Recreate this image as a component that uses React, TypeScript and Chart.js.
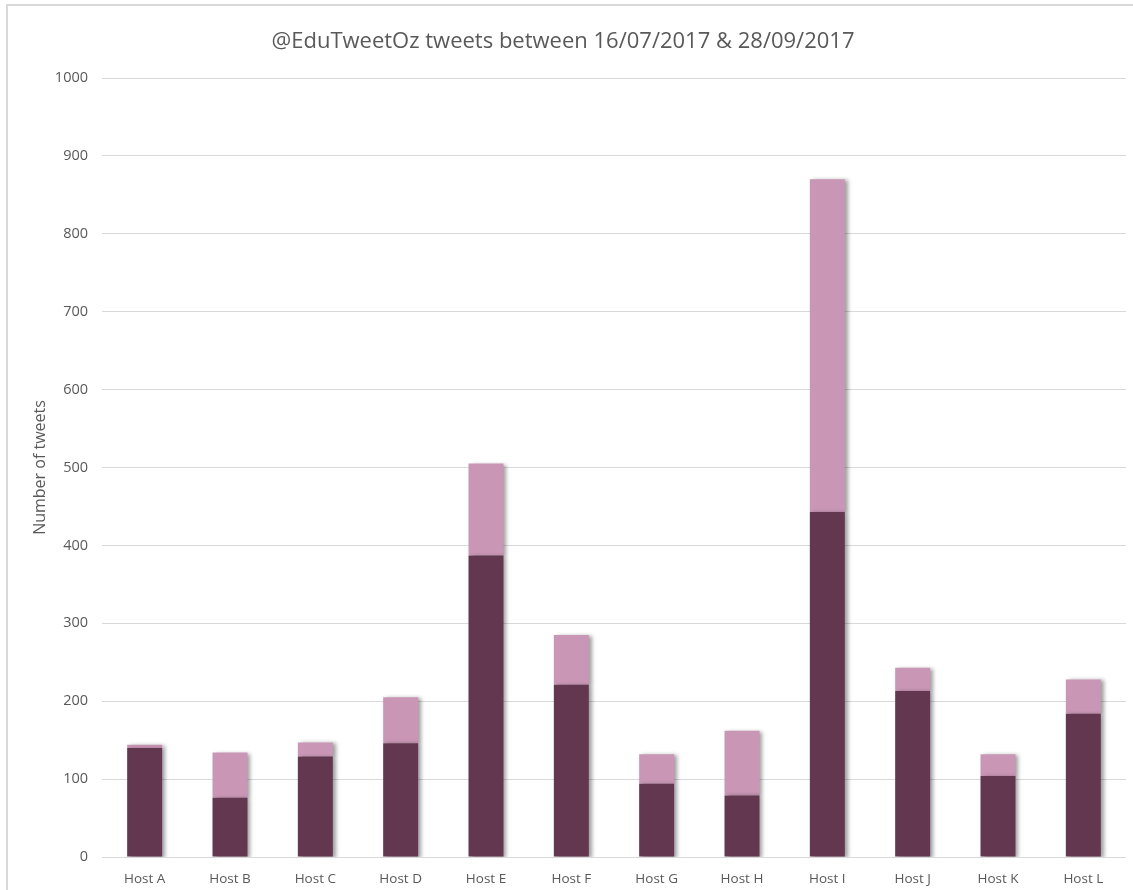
import React, { useEffect, useRef } from "react";
import { Chart, registerables } from "chart.js";

Chart.register(...registerables);

const TITLE = "@EduTweetOz tweets between 16/07/2017 & 28/09/2017";
const Y_TITLE = "Number of tweets";
const categories = ["Host A", "Host B", "Host C", "Host D", "Host E", "Host F", "Host G", "Host H", "Host I", "Host J", "Host K", "Host L"];
const lowerSeries = [140, 76, 129, 146, 387, 221, 94, 79, 443, 213, 104, 184];
const upperSeries = [4, 58, 18, 59, 118, 64, 38, 83, 427, 30, 28, 44];
const yMin = 0;
const yMax = 1000;
const yStep = 100;

const FONT = "'Open Sans', sans-serif";
const TEXT = "#595959";

const shadowPlugin = {
  id: "barShadow",
  beforeDatasetDraw(chart: any) {
    const ctx = chart.ctx;
    ctx.save();
    ctx.shadowColor = "rgba(0,0,0,0.38)";
    ctx.shadowBlur = 4;
    ctx.shadowOffsetX = 3;
    ctx.shadowOffsetY = 1;
  },
  afterDatasetDraw(chart: any) {
    chart.ctx.restore();
  },
};

export default function App() {
  const ref = useRef<HTMLCanvasElement | null>(null);

  useEffect(() => {
    document.body.style.margin = "0";
    if (!ref.current) return;
    const chart = new Chart(ref.current, {
      type: "bar",
      data: {
        labels: categories,
        datasets: [
          {
            label: "Lower",
            data: lowerSeries,
            backgroundColor: "#643750",
            categoryPercentage: 1,
            barPercentage: 0.41,
          },
          {
            label: "Upper",
            data: upperSeries,
            backgroundColor: "#C996B5",
            categoryPercentage: 1,
            barPercentage: 0.41,
          },
        ],
      },
      plugins: [shadowPlugin],
      options: {
        animation: false,
        responsive: false,
        maintainAspectRatio: false,
        layout: { padding: { left: 0, right: 7, top: 0, bottom: 0 } },
        plugins: {
          legend: { display: false },
          tooltip: { enabled: false },
          title: {
            display: true,
            text: TITLE,
            color: TEXT,
            font: { family: FONT, size: 22, weight: "normal" },
            padding: { top: 29, bottom: 22.6 },
          },
        },
        scales: {
          x: {
            stacked: true,
            afterFit(scale: any) {
              scale.height = 33;
            },
            grid: { display: false, drawTicks: false },
            border: { display: false },
            ticks: { color: TEXT, font: { family: FONT, size: 13.5 }, padding: 14, maxRotation: 0 },
          },
          y: {
            stacked: true,
            min: yMin,
            max: yMax,
            afterFit(scale: any) {
              scale.width = 102;
            },
            grid: { color: "#d9d9d9", lineWidth: 1, drawTicks: false },
            border: { display: false },
            ticks: {
              stepSize: yStep,
              color: TEXT,
              font: { family: FONT, size: 14.5 },
              padding: 14,
              callback: (v: any) => String(v),
            },
            title: {
              display: true,
              text: Y_TITLE,
              color: TEXT,
              font: { family: FONT, size: 16 },
              padding: { top: 31, bottom: 0 },
            },
          },
        },
      },
    });
    return () => chart.destroy();
  }, []);

  return (
    <div style={{ position: "relative", width: 1133, height: 890, overflow: "hidden", background: "#fff" }}>
      <div
        style={{
          position: "absolute",
          left: 6,
          top: 4,
          width: 1160,
          height: 920,
          borderLeft: "2px solid #d9d9d9",
          borderTop: "2px solid #d9d9d9",
        }}
      />
      <canvas ref={ref} width={1133} height={890} style={{ position: "absolute", left: 0, top: 0, display: "block" }} />
    </div>
  );
}
